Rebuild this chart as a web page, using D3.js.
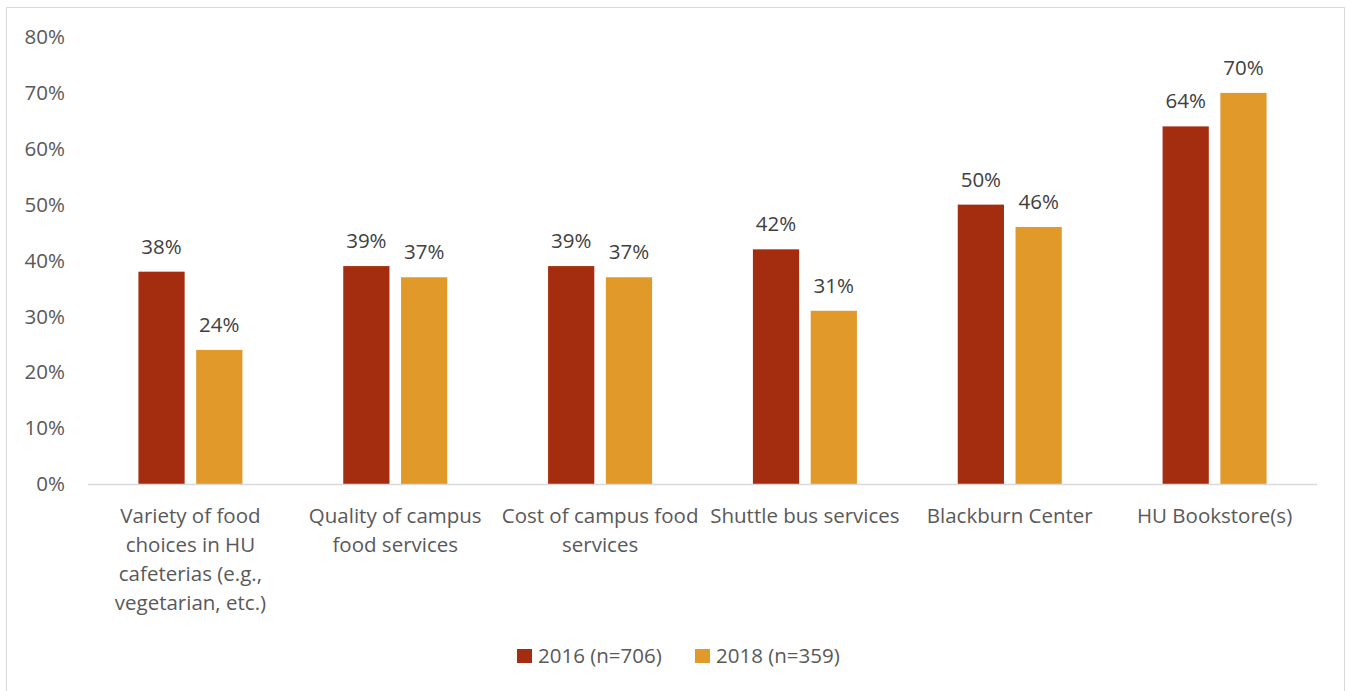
<!DOCTYPE html>
<html lang="en">
<head>
<meta charset="UTF-8">
<title>Campus services chart</title>
<script src="https://d3js.org/d3.v7.min.js"></script>
<style>
    body { margin: 0; background: #fff; }
    text { font-family: "Open Sans", "Noto Sans", sans-serif; fill: #595959; }
</style>
</head>
<body>
<svg width="1346" height="691"></svg>
<script>
    // data
    const categories = [
        "Variety of food choices in HU cafeterias (e.g., vegetarian, etc.)",
        "Quality of campus food services",
        "Cost of campus food services",
        "Shuttle bus services",
        "Blackburn Center",
        "HU Bookstore(s)"
    ];
    const categoryLines = [
        ["Variety of food", "choices in HU", "cafeterias (e.g.,", "vegetarian, etc.)"],
        ["Quality of campus", "food services"],
        ["Cost of campus food", "services"],
        ["Shuttle bus services"],
        ["Blackburn Center"],
        ["HU Bookstore(s)"]
    ];
    const seriesNames = ["2016 (n=706)", "2018 (n=359)"];
    const values2016 = [38, 39, 39, 42, 50, 64];
    const values2018 = [24, 37, 37, 31, 46, 70];
    const yTicks = [0, 10, 20, 30, 40, 50, 60, 70, 80];
    const colors = ["#A52D0F", "#E1992A"];

    const svg = d3.select("svg");
    const fs = 20.5;

    // chart frame
    svg.append("rect")
        .attr("x", 6.5).attr("y", 7.5)
        .attr("width", 1338).attr("height", 690)
        .attr("fill", "none")
        .attr("stroke", "#d9d9d9");

    const plotLeft = 88, plotRight = 1317, plotTop = 37, plotBottom = 484;

    const x0 = d3.scaleBand()
        .domain(categories)
        .range([plotLeft, plotRight]);

    const x1 = d3.scaleBand()
        .domain([0, 1])
        .range([0, 104])
        .paddingInner(0.2);

    const y = d3.scaleLinear()
        .domain([0, 80])
        .range([plotBottom, plotTop]);

    // y tick labels (no gridlines in reference)
    svg.append("g")
        .selectAll("text")
        .data(yTicks)
        .enter().append("text")
        .attr("x", 65)
        .attr("y", d => y(d))
        .attr("dy", "0.35em")
        .attr("text-anchor", "end")
        .attr("font-size", fs)
        .text(d => d + "%");

    const rows = categories.map((c, i) => ({ cat: c, vals: [values2016[i], values2018[i]] }));

    const groups = svg.append("g")
        .selectAll("g")
        .data(rows)
        .enter().append("g")
        .attr("transform", d => `translate(${x0(d.cat) + x0.bandwidth() / 2 - 52},0)`);

    groups.selectAll("rect")
        .data(d => d.vals.map((v, k) => ({ v, k })))
        .enter().append("rect")
        .attr("x", d => x1(d.k))
        .attr("y", d => y(d.v))
        .attr("width", x1.bandwidth())
        .attr("height", d => y(0) - y(d.v))
        .attr("fill", d => colors[d.k]);

    groups.selectAll("text")
        .data(d => d.vals.map((v, k) => ({ v, k })))
        .enter().append("text")
        .attr("x", d => x1(d.k) + x1.bandwidth() / 2)
        .attr("y", d => y(d.v) - 18)
        .attr("text-anchor", "middle")
        .attr("font-size", fs)
        .style("fill", "#404040")
        .text(d => d.v + "%");

    // x axis line
    svg.append("line")
        .attr("x1", plotLeft).attr("x2", plotRight)
        .attr("y1", plotBottom + 0.5).attr("y2", plotBottom + 0.5)
        .attr("stroke", "#d9d9d9")
        .attr("stroke-width", 1.5);

    // category labels
    const catLabels = svg.append("g")
        .selectAll("text")
        .data(categories)
        .enter().append("text")
        .attr("x", d => x0(d) + x0.bandwidth() / 2)
        .attr("y", 523)
        .attr("text-anchor", "middle")
        .attr("font-size", fs);

    catLabels.each(function (d, i) {
        d3.select(this).selectAll("tspan")
            .data(categoryLines[i])
            .enter().append("tspan")
            .attr("x", x0(d) + x0.bandwidth() / 2)
            .attr("dy", (t, j) => j === 0 ? 0 : 29)
            .text(t => t);
    });

    // legend
    const legendX = [517, 695];
    const legend = svg.append("g")
        .selectAll("g")
        .data(seriesNames)
        .enter().append("g")
        .attr("transform", (d, i) => `translate(${legendX[i]},649)`);

    legend.append("rect")
        .attr("width", 15).attr("height", 14)
        .attr("fill", (d, i) => colors[i]);

    legend.append("text")
        .attr("x", 21)
        .attr("y", 7)
        .attr("dy", "0.35em")
        .attr("font-size", fs)
        .text(d => d);
</script>
</body>
</html>
